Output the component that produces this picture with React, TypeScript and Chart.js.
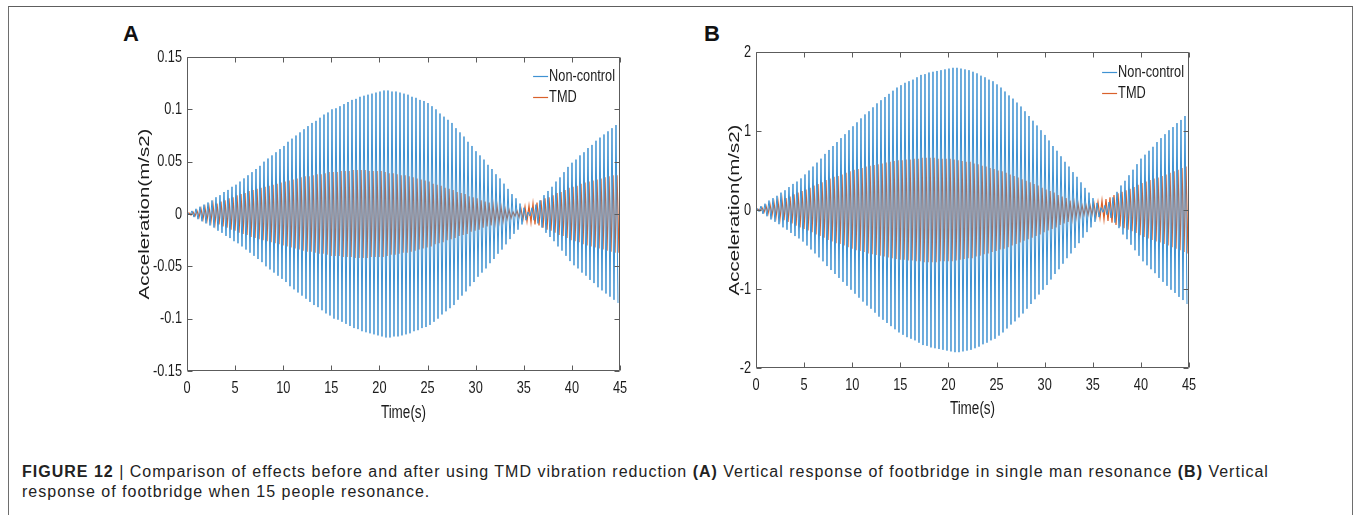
import React, { useEffect, useRef } from "react";
import { Chart, registerables } from "chart.js";

Chart.register(...registerables);

// ---------- data ----------
// Oscillation period of the response (s); each value below is the peak amplitude of one cycle.
const CYCLE_PERIOD = 0.4157;

const timeTicks = [0, 5, 10, 15, 20, 25, 30, 35, 40, 45];
const yTicksA = [-0.15, -0.1, -0.05, 0, 0.05, 0.1, 0.15];
const yTicksB = [-2, -1, 0, 1, 2];

const seriesLabels = ["Non-control", "TMD"];
const xTitle = "Time(s)";
const yTitle = "Acceleration(m/s2)";

const nonControlPeaksA = [
  0.001, 0.003, 0.005, 0.007, 0.009, 0.011, 0.013, 0.016, 0.018, 0.021, 0.023, 0.026,
  0.028, 0.031, 0.034, 0.037, 0.040, 0.043, 0.046, 0.050, 0.053, 0.056, 0.059, 0.062,
  0.065, 0.069, 0.072, 0.075, 0.078, 0.081, 0.084, 0.087, 0.089, 0.092, 0.095, 0.097,
  0.100, 0.101, 0.103, 0.105, 0.107, 0.109, 0.110, 0.112, 0.113, 0.114, 0.115, 0.116,
  0.117, 0.118, 0.118, 0.117, 0.117, 0.116, 0.115, 0.114, 0.112, 0.111, 0.109, 0.108,
  0.106, 0.103, 0.100, 0.096, 0.093, 0.090, 0.087, 0.082, 0.078, 0.074, 0.069, 0.065,
  0.060, 0.056, 0.052, 0.047, 0.043, 0.038, 0.034, 0.029, 0.024, 0.019, 0.015, 0.010,
  0.006, 0.002, 0.006, 0.009, 0.013, 0.018, 0.022, 0.026, 0.031, 0.035, 0.040, 0.045,
  0.049, 0.052, 0.056, 0.059, 0.063, 0.066, 0.070, 0.073, 0.076, 0.079, 0.082, 0.085,
];

const tmdPeaksA = [
  0.001, 0.002, 0.003, 0.005, 0.006, 0.007, 0.009, 0.010, 0.012, 0.013, 0.015, 0.016,
  0.018, 0.019, 0.020, 0.022, 0.023, 0.024, 0.025, 0.026, 0.027, 0.028, 0.029, 0.030,
  0.031, 0.032, 0.033, 0.034, 0.035, 0.036, 0.036, 0.037, 0.038, 0.038, 0.039, 0.040,
  0.040, 0.040, 0.041, 0.041, 0.041, 0.042, 0.042, 0.042, 0.042, 0.041, 0.041, 0.041,
  0.041, 0.040, 0.039, 0.039, 0.038, 0.037, 0.037, 0.036, 0.035, 0.034, 0.033, 0.032,
  0.031, 0.029, 0.028, 0.027, 0.025, 0.024, 0.023, 0.021, 0.020, 0.019, 0.017, 0.016,
  0.015, 0.013, 0.012, 0.011, 0.009, 0.008, 0.007, 0.005, 0.004, 0.002, 0.003, 0.005,
  0.007, 0.008, 0.010, 0.011, 0.013, 0.015, 0.016, 0.018, 0.020, 0.021, 0.023, 0.025,
  0.026, 0.027, 0.029, 0.030, 0.031, 0.032, 0.033, 0.034, 0.035, 0.036, 0.037, 0.037,
];

const nonControlPeaksB = [
  0.02, 0.05, 0.08, 0.12, 0.15, 0.18, 0.22, 0.25, 0.29, 0.33, 0.36, 0.40,
  0.45, 0.50, 0.55, 0.60, 0.65, 0.71, 0.76, 0.81, 0.86, 0.91, 0.96, 1.01,
  1.06, 1.11, 1.16, 1.21, 1.25, 1.30, 1.35, 1.39, 1.43, 1.47, 1.51, 1.55,
  1.58, 1.61, 1.63, 1.65, 1.68, 1.71, 1.72, 1.74, 1.75, 1.76, 1.77, 1.78,
  1.79, 1.80, 1.80, 1.79, 1.78, 1.77, 1.75, 1.73, 1.70, 1.68, 1.65, 1.63,
  1.59, 1.55, 1.50, 1.45, 1.41, 1.36, 1.31, 1.25, 1.19, 1.13, 1.07, 1.01,
  0.95, 0.88, 0.81, 0.75, 0.68, 0.61, 0.55, 0.48, 0.42, 0.35, 0.28, 0.22,
  0.15, 0.09, 0.03, 0.06, 0.10, 0.16, 0.23, 0.31, 0.37, 0.44, 0.51, 0.58,
  0.65, 0.70, 0.75, 0.80, 0.86, 0.91, 0.96, 1.01, 1.05, 1.10, 1.14, 1.19,
];

const tmdPeaksB = [
  0.01, 0.03, 0.05, 0.07, 0.09, 0.11, 0.13, 0.15, 0.17, 0.20, 0.22, 0.24,
  0.26, 0.28, 0.31, 0.33, 0.35, 0.38, 0.40, 0.42, 0.43, 0.45, 0.47, 0.49,
  0.51, 0.52, 0.53, 0.55, 0.56, 0.57, 0.58, 0.59, 0.60, 0.61, 0.62, 0.63,
  0.63, 0.64, 0.64, 0.65, 0.65, 0.66, 0.66, 0.66, 0.66, 0.65, 0.65, 0.65,
  0.65, 0.64, 0.63, 0.62, 0.61, 0.61, 0.59, 0.58, 0.56, 0.55, 0.53, 0.52,
  0.50, 0.49, 0.47, 0.45, 0.43, 0.41, 0.39, 0.37, 0.35, 0.33, 0.31, 0.28,
  0.26, 0.24, 0.22, 0.19, 0.17, 0.15, 0.12, 0.10, 0.08, 0.06, 0.06, 0.06,
  0.08, 0.10, 0.12, 0.14, 0.16, 0.19, 0.21, 0.23, 0.25, 0.27, 0.29, 0.32,
  0.34, 0.36, 0.38, 0.40, 0.41, 0.43, 0.45, 0.47, 0.49, 0.51, 0.53, 0.55,
];

// ---------- helpers ----------
const BLUE = "#3f92d2";
const ORANGE = "#d9612b";
const SANS = "'Liberation Sans', Arial, sans-serif";
const SQUEEZE = 0.75; // the figure is horizontally compressed
const TEXT = "#1c1c1c";

function toPoints(peaks: number[], phase: number) {
  const pts: { x: number; y: number }[] = [{ x: 0, y: 0 }];
  peaks.forEach((a, k) => {
    pts.push({ x: (k + 0.25 + phase) * CYCLE_PERIOD, y: a });
    pts.push({ x: (k + 0.75 + phase) * CYCLE_PERIOD, y: -a });
  });
  return pts.filter((p) => p.x <= 45);
}

function squeezedText(
  ctx: CanvasRenderingContext2D,
  text: string,
  x: number,
  y: number,
  align: CanvasTextAlign,
  size: number,
  rotate = false
) {
  ctx.save();
  ctx.translate(x, y);
  ctx.scale(SQUEEZE, 1);
  if (rotate) ctx.rotate(-Math.PI / 2);
  ctx.font = `${size}px ${SANS}`;
  ctx.textAlign = align;
  ctx.textBaseline = "middle";
  ctx.fillStyle = TEXT;
  ctx.fillText(text, 0, 0);
  ctx.restore();
}

const framePlugin = {
  id: "matlabFrame",
  afterDraw(chart: any) {
    const { ctx, chartArea } = chart;
    const { left, top, right, bottom } = chartArea;
    const xs = chart.scales.x;
    const ys = chart.scales.y;
    const o = chart.options.plugins.matlabFrame;
    ctx.save();
    ctx.strokeStyle = "#5c5c5c";
    ctx.lineWidth = 1;
    const L = Math.round(left) + 0.5;
    const R = Math.round(right) - 0.5;
    const T = Math.round(top) + 0.5;
    const B = Math.round(bottom) - 0.5;
    ctx.beginPath();
    ctx.rect(L, T, R - L, B - T);
    const tl = 5;
    xs.ticks.forEach((t: any) => {
      const px = Math.round(xs.getPixelForValue(t.value)) + 0.5;
      ctx.moveTo(px, B);
      ctx.lineTo(px, B - tl);
      ctx.moveTo(px, T);
      ctx.lineTo(px, T + tl);
    });
    ys.ticks.forEach((t: any) => {
      const py = Math.round(ys.getPixelForValue(t.value)) + 0.5;
      ctx.moveTo(L, py);
      ctx.lineTo(L + tl, py);
      ctx.moveTo(R, py);
      ctx.lineTo(R - tl, py);
    });
    ctx.stroke();

    // tick labels
    xs.ticks.forEach((t: any) => {
      squeezedText(ctx, String(t.value), xs.getPixelForValue(t.value), bottom + 17, "center", 17);
    });
    ys.ticks.forEach((t: any) => {
      squeezedText(ctx, String(t.value), left - 5, ys.getPixelForValue(t.value), "right", 17);
    });

    // axis titles
    squeezedText(ctx, xTitle, (left + right) / 2, bottom + o.xTitleOffset, "center", 18);
    squeezedText(ctx, yTitle, o.yTitleX, (top + bottom) / 2, "center", 20.5, true);

    // legend (top-right, inside the axes, no box)
    ctx.font = `17px ${SANS}`;
    const labels = chart.data.datasets.map((d: any) => d.label);
    const maxW = Math.max(...labels.map((l: string) => ctx.measureText(l).width)) * SQUEEZE;
    const textX = right - 5 - maxW;
    const lineX0 = textX - 16;
    chart.data.datasets.forEach((d: any, i: number) => {
      const y = top + o.legendTop + i * 21;
      ctx.strokeStyle = d.borderColor;
      ctx.lineWidth = 1.2;
      ctx.beginPath();
      ctx.moveTo(lineX0, Math.round(y) + 0.5);
      ctx.lineTo(lineX0 + 15, Math.round(y) + 0.5);
      ctx.stroke();
      squeezedText(ctx, d.label, textX, y, "left", 17);
    });
    ctx.restore();
  },
};

type PanelProps = {
  left: number;
  top: number;
  width: number;
  height: number;
  yAxisWidth: number;
  xAxisHeight: number;
  padTop: number;
  padRight: number;
  yTitleX: number;
  xTitleOffset: number;
  legendTop: number;
  yTicks: number[];
  yMin: number;
  yMax: number;
  nonControl: number[];
  tmd: number[];
};

function Panel(p: PanelProps) {
  const ref = useRef<HTMLCanvasElement | null>(null);
  useEffect(() => {
    if (!ref.current) return;
    const chart = new Chart(ref.current, {
      type: "line",
      data: {
        datasets: [
          {
            label: seriesLabels[0],
            data: toPoints(p.nonControl, 0),
            borderColor: BLUE,
            borderWidth: 1,
            pointRadius: 0,
            tension: 0,
          },
          {
            label: seriesLabels[1],
            data: toPoints(p.tmd, 0.25),
            borderColor: ORANGE,
            borderWidth: 1.2,
            pointRadius: 0,
            tension: 0,
          },
        ],
      },
      options: {
        responsive: false,
        animation: false,
        parsing: false,
        normalized: true,
        devicePixelRatio: 1,
        layout: { padding: { top: p.padTop, right: p.padRight, left: 0, bottom: 0 } },
        plugins: {
          legend: { display: false },
          tooltip: { enabled: false },
          matlabFrame: { yTitleX: p.yTitleX, xTitleOffset: p.xTitleOffset, legendTop: p.legendTop },
        },
        events: [],
        scales: {
          x: {
            type: "linear",
            min: 0,
            max: 45,
            grid: { display: false, drawTicks: false },
            border: { display: false },
            afterBuildTicks: (s: any) => {
              s.ticks = timeTicks.map((v) => ({ value: v }));
            },
            afterFit: (s: any) => {
              s.height = p.xAxisHeight;
            },
            ticks: { display: false },
            title: { display: false },
          },
          y: {
            type: "linear",
            min: p.yMin,
            max: p.yMax,
            grid: { display: false, drawTicks: false },
            border: { display: false },
            afterBuildTicks: (s: any) => {
              s.ticks = p.yTicks.map((v) => ({ value: v }));
            },
            afterFit: (s: any) => {
              s.width = p.yAxisWidth;
            },
            ticks: { display: false },
            title: { display: false },
          },
        },
      },
      plugins: [framePlugin],
    } as any);
    return () => chart.destroy();
  }, []);
  return (
    <canvas
      ref={ref}
      width={p.width}
      height={p.height}
      style={{ position: "absolute", left: p.left, top: p.top, width: p.width, height: p.height, display: "block" }}
    />
  );
}

export default function App() {
  const labelStyle: React.CSSProperties = {
    position: "absolute",
    fontFamily: SANS,
    fontWeight: 700,
    fontSize: 22,
    lineHeight: "22px",
    color: "#111",
  };
  return (
    <div
      style={{
        position: "absolute",
        left: 0,
        top: 0,
        width: 1354,
        height: 515,
        overflow: "hidden",
        background: "#fff",
      }}
    >
      <div
        style={{
          position: "absolute",
          left: 8,
          top: 6,
          width: 1343,
          height: 600,
          borderTop: "1px solid #5e5e5e",
          borderLeft: "1px solid #6e6e6e",
          borderRight: "1px solid #6e6e6e",
        }}
      />
      <div style={{ ...labelStyle, left: 123, top: 23 }}>A</div>
      <div style={{ ...labelStyle, left: 704, top: 23 }}>B</div>
      <Panel
        left={100}
        top={40}
        width={540}
        height={390}
        yAxisWidth={87}
        xAxisHeight={59}
        padTop={17}
        padRight={20}
        yTitleX={45}
        xTitleOffset={42}
        legendTop={19}
        yTicks={yTicksA}
        yMin={-0.15}
        yMax={0.15}
        nonControl={nonControlPeaksA}
        tmd={tmdPeaksA}
      />
      <Panel
        left={700}
        top={35}
        width={540}
        height={395}
        yAxisWidth={56}
        xAxisHeight={62}
        padTop={17}
        padRight={51}
        yTitleX={35}
        xTitleOffset={41}
        legendTop={20}
        yTicks={yTicksB}
        yMin={-2}
        yMax={2}
        nonControl={nonControlPeaksB}
        tmd={tmdPeaksB}
      />
      <div
        style={{
          position: "absolute",
          left: 22,
          top: 462,
          width: 1328,
          fontFamily: SANS,
          fontSize: 16,
          letterSpacing: "1px",
          lineHeight: "20px",
          color: "#222",
          whiteSpace: "nowrap",
        }}
      >
        <b>FIGURE 12</b> | Comparison of effects before and after using TMD vibration reduction <b>(A)</b> Vertical
        response of footbridge in single man resonance <b>(B)</b> Vertical
        <br />
        response of footbridge when 15 people resonance.
      </div>
    </div>
  );
}
